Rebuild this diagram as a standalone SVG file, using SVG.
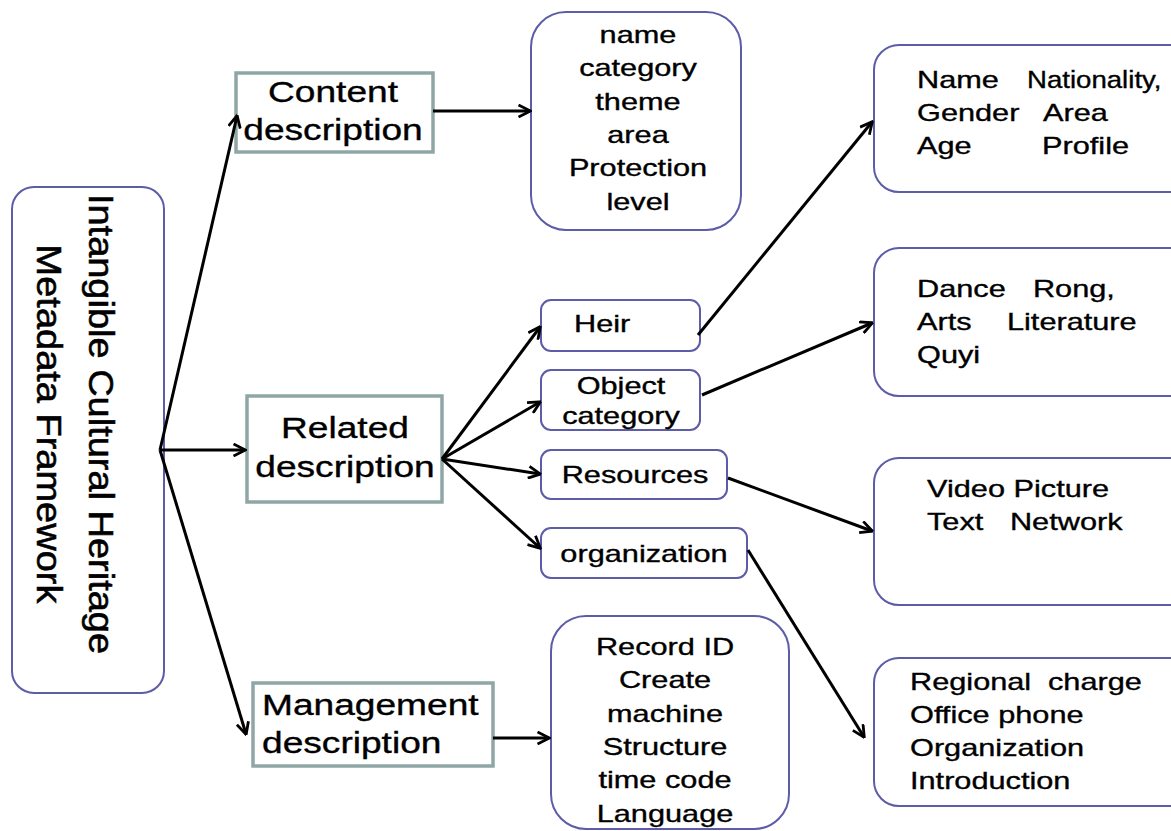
<svg xmlns="http://www.w3.org/2000/svg" width="1171" height="831" viewBox="0 0 1171 831">
<style>
text{font-family:"Liberation Sans",Arial,sans-serif;fill:#000;stroke:#000;stroke-width:0.35}
.rb{fill:#fff;stroke:#5c5ca8;stroke-width:2}
.sq{fill:#fff;stroke:#8fa6a7;stroke-width:3.5}
.t29{font-size:29px}
.t24{font-size:24px}
.t38{font-size:38px;stroke-width:0.6}
.c{text-anchor:middle}
.ln{stroke:#000;stroke-width:3;fill:none;marker-end:url(#ah)}
</style>
<defs>
<marker id="ah" viewBox="0 0 14 14" refX="12.5" refY="7" markerWidth="14" markerHeight="14" markerUnits="userSpaceOnUse" orient="auto">
<path d="M1,1 L13,7 L1,13" fill="none" stroke="#000" stroke-width="2.8"/>
</marker>
</defs>
<rect width="1171" height="831" fill="#fff"/>

<g id="main">
<rect class="rb" x="12" y="187" width="152" height="506" rx="22"/>
<text class="t38 c" transform="translate(89,424) rotate(90) scale(1,0.9)">Intangible Cultural Heritage</text>
<text class="t38 c" transform="translate(37,424) rotate(90) scale(1,0.9)">Metadata Framework</text>
</g>

<g id="content">
<rect class="sq" x="236" y="73" width="197" height="79"/>
<g transform="translate(333,0) scale(1.28,1)">
<text class="t29 c" x="0" y="102">Content</text>
<text class="t29 c" x="0" y="140">description</text>
</g>
</g>

<g id="related">
<rect class="sq" x="247" y="396" width="195" height="106"/>
<g transform="translate(345,0) scale(1.28,1)">
<text class="t29 c" x="0" y="438">Related</text>
<text class="t29 c" x="0" y="477">description</text>
</g>
</g>

<g id="management">
<rect class="sq" x="253" y="683" width="240" height="83"/>
<g transform="translate(262,0) scale(1.28,1)">
<text class="t29" x="0" y="715">Management</text>
<text class="t29" x="0" y="753">description</text>
</g>
</g>

<g id="contentFields">
<rect class="rb" x="531" y="12" width="210" height="218" rx="35"/>
<g transform="translate(638,0) scale(1.28,1)">
<text class="t24 c" x="0" y="43">name</text>
<text class="t24 c" x="0" y="76">category</text>
<text class="t24 c" x="0" y="110">theme</text>
<text class="t24 c" x="0" y="143">area</text>
<text class="t24 c" x="0" y="176">Protection</text>
<text class="t24 c" x="0" y="210">level</text>
</g>
</g>

<g id="heir">
<rect class="rb" x="541" y="300" width="159" height="51" rx="10"/>
<g transform="translate(574,0) scale(1.28,1)">
<text class="t24" x="0" y="332">Heir</text>
</g>
</g>

<g id="objectCategory">
<rect class="rb" x="541" y="370" width="159" height="60" rx="10"/>
<g transform="translate(621,0) scale(1.28,1)">
<text class="t24 c" x="0" y="394">Object</text>
<text class="t24 c" x="0" y="424">category</text>
</g>
</g>

<g id="resources">
<rect class="rb" x="541" y="450" width="186" height="49" rx="10"/>
<g transform="translate(635,0) scale(1.28,1)">
<text class="t24 c" x="0" y="483">Resources</text>
</g>
</g>

<g id="organization">
<rect class="rb" x="541" y="528" width="206" height="50" rx="10"/>
<g transform="translate(644,0) scale(1.28,1)">
<text class="t24 c" x="0" y="562">organization</text>
</g>
</g>

<g id="managementFields">
<rect class="rb" x="551" y="616" width="238" height="213" rx="35"/>
<g transform="translate(665,0) scale(1.28,1)">
<text class="t24 c" x="0" y="655">Record ID</text>
<text class="t24 c" x="0" y="688">Create</text>
<text class="t24 c" x="0" y="722">machine</text>
<text class="t24 c" x="0" y="755">Structure</text>
<text class="t24 c" x="0" y="788">time code</text>
<text class="t24 c" x="0" y="822">Language</text>
</g>
</g>

<g id="heirFields">
<rect class="rb" x="874" y="45" width="320" height="147" rx="25"/>
<g transform="translate(917,0) scale(1.28,1)">
<text class="t24" x="0" y="88">Name</text>
<text class="t24" y="121"><tspan x="0">Gender</tspan><tspan x="98.4">Area</tspan></text>
<text class="t24" y="154"><tspan x="0">Age</tspan><tspan x="97.7">Profile</tspan></text>
</g>
<g transform="translate(1027,0) scale(1.15,1)">
<text class="t24" x="0" y="88">Nationality,</text>
</g>
</g>

<g id="objectFields">
<rect class="rb" x="874" y="248" width="320" height="148" rx="25"/>
<g transform="translate(917,0) scale(1.28,1)">
<text class="t24" y="297"><tspan x="0">Dance</tspan><tspan x="90.6">Rong,</tspan></text>
<text class="t24" y="330"><tspan x="0">Arts</tspan><tspan x="70.3">Literature</tspan></text>
<text class="t24" y="363"><tspan x="0">Quyi</tspan></text>
</g>
</g>

<g id="resourceFields">
<rect class="rb" x="874" y="458" width="320" height="147" rx="25"/>
<g transform="translate(927,0) scale(1.28,1)">
<text class="t24" x="0" y="497">Video Picture</text>
<text class="t24" y="530"><tspan x="0">Text</tspan><tspan x="64.8">Network</tspan></text>
</g>
</g>

<g id="organizationFields">
<rect class="rb" x="874" y="658" width="320" height="148" rx="25"/>
<g transform="translate(910,0) scale(1.28,1)">
<text class="t24" y="690"><tspan x="0">Regional</tspan><tspan x="107.8">charge</tspan></text>
<text class="t24" x="0" y="723">Office phone</text>
<text class="t24" x="0" y="756">Organization</text>
<text class="t24" x="0" y="789">Introduction</text>
</g>
</g>

<g id="connectors">
<path class="ln" d="M160,450 L237,116"/>
<path class="ln" d="M160,450 L245,450"/>
<path class="ln" d="M160,450 L246,734"/>
<path class="ln" d="M433,111 L530,111"/>
<path class="ln" d="M442,459 L540,327"/>
<path class="ln" d="M442,459 L540,402"/>
<path class="ln" d="M442,459 L540,474"/>
<path class="ln" d="M442,459 L540,548"/>
<path class="ln" d="M493,738 L549,738"/>
<path class="ln" d="M698,335 L872,122"/>
<path class="ln" d="M702,395 L872,323"/>
<path class="ln" d="M728,478 L872,531"/>
<path class="ln" d="M748,550 L864,737"/>
</g>
</svg>
